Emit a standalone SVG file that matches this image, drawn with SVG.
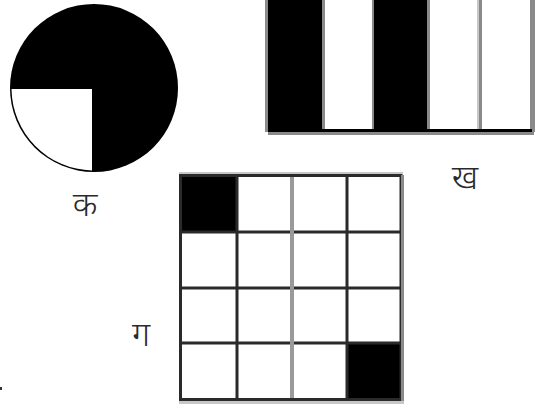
<svg xmlns="http://www.w3.org/2000/svg" width="542" height="408" viewBox="0 0 542 408">
<style>
.lbl{font-family:"Noto Sans","Noto Sans Devanagari","Lohit Devanagari",sans-serif;font-size:34px;font-weight:300;fill:#2a2a2a;text-anchor:middle}
.blk{fill:#000}
.gry{fill:#8a8a8a}
.lg{fill:#c8c8c8}
.grid{stroke:#2a2a2a;stroke-width:3;fill:none}
</style>
<rect width="542" height="408" fill="#fff"/>
<g id="ka">
<circle cx="94" cy="88" r="84" class="blk"/>
<path d="M92 89 L11.5 89 A82.5 82.5 0 0 0 92 170.5 Z" fill="#fff"/>
<text x="85" y="216" class="lbl">क</text>
</g>
<g id="kha">
<rect x="265" y="-2" width="270" height="137" fill="#fff"/>
<rect x="265" y="-2" width="3" height="134" class="gry"/>
<rect x="268" y="-2" width="54" height="134" class="blk"/>
<rect x="322" y="-2" width="3" height="131" class="gry"/>
<rect x="372" y="-2" width="2" height="131" class="gry"/>
<rect x="374" y="-2" width="53" height="134" class="blk"/>
<rect x="427" y="-2" width="3" height="131" class="gry"/>
<rect x="477" y="-2" width="2" height="131" class="lg"/>
<rect x="479" y="-2" width="3" height="131" class="gry"/>
<rect x="530" y="-2" width="5" height="134" class="gry"/>
<rect x="268" y="129" width="264" height="3" class="blk"/>
<rect x="268" y="132" width="266" height="3" class="gry"/>
<text x="465" y="189" class="lbl">ख</text>
</g>
<g id="ga">
<rect x="179" y="172" width="224" height="2" class="lg"/>
<rect x="180" y="175" width="56" height="57" class="blk"/>
<rect x="347" y="343" width="54" height="56" class="blk"/>
<path d="M180 232 H401 M180 288 H401 M180 343 H401 M237 175 V399 M347 175 V399" class="grid"/>
<path d="M292 175 V399" stroke="#9a9a9a" stroke-width="4"/>
<rect x="180.5" y="175.5" width="220.5" height="224" class="grid"/>
<rect x="401" y="175" width="3" height="226" class="gry"/>
<rect x="179" y="401" width="225" height="3" class="lg"/>
<text x="141" y="346" class="lbl">ग</text>
</g>
<rect x="0" y="387" width="2" height="3" fill="#333"/>
</svg>
